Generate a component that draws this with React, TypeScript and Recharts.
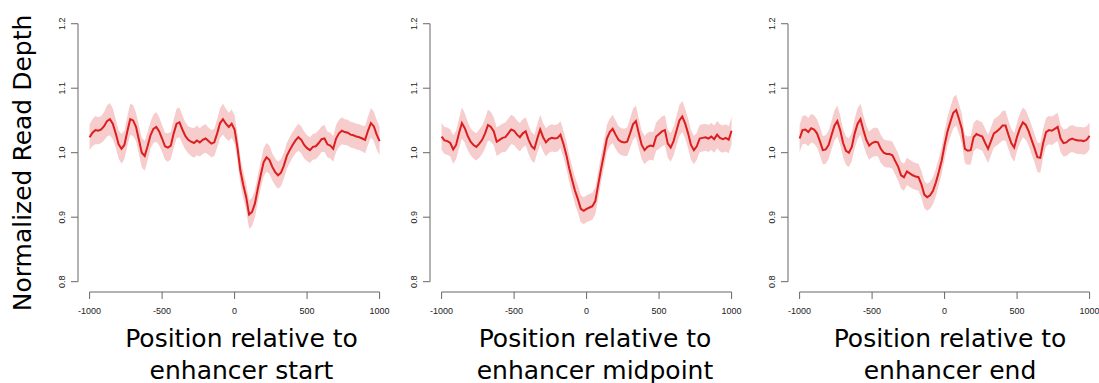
import React from 'react';
import { ComposedChart, Area, Line, XAxis, YAxis, ReferenceLine } from 'recharts';

// positions (bp) relative to the enhancer feature
const positions = [
	-1000, -980, -960, -940, -920, -900, -880, -860, -840, -820,
	-800, -780, -760, -740, -720, -700, -680, -660, -640, -620,
	-600, -580, -560, -540, -520, -500, -480, -460, -440, -420,
	-400, -380, -360, -340, -320, -300, -280, -260, -240, -220,
	-200, -180, -160, -140, -120, -100, -80, -60, -40, -20,
	0, 20, 40, 60, 80, 100, 120, 140, 160, 180,
	200, 220, 240, 260, 280, 300, 320, 340, 360, 380,
	400, 420, 440, 460, 480, 500, 520, 540, 560, 580,
	600, 620, 640, 660, 680, 700, 720, 740, 760, 780,
	800, 820, 840, 860, 880, 900, 920, 940, 960, 980,
	1000,
];

// mean normalized depth around enhancer start
const startMean = [
	1.024, 1.031, 1.035, 1.034, 1.036, 1.041, 1.049, 1.052, 1.045, 1.030,
	1.013, 1.006, 1.012, 1.033, 1.052, 1.050, 1.040, 1.020, 1.000, 0.995,
	1.010, 1.027, 1.037, 1.040, 1.033, 1.022, 1.010, 1.008, 1.011, 1.030,
	1.045, 1.047, 1.036, 1.026, 1.020, 1.017, 1.015, 1.019, 1.016, 1.020,
	1.022, 1.018, 1.014, 1.016, 1.030, 1.046, 1.052, 1.045, 1.040, 1.045,
	1.036, 1.008, 0.972, 0.950, 0.931, 0.904, 0.908, 0.921, 0.944, 0.965,
	0.985, 0.993, 0.989, 0.978, 0.970, 0.965, 0.969, 0.980, 0.995, 1.004,
	1.012, 1.019, 1.024, 1.020, 1.012, 1.007, 1.004, 1.009, 1.010, 1.015,
	1.021, 1.022, 1.013, 1.011, 1.006, 1.022, 1.030, 1.034, 1.032, 1.031,
	1.028, 1.027, 1.025, 1.024, 1.022, 1.020, 1.034, 1.046, 1.041, 1.028,
	1.018,
];

// half width of the shaded band (start)
const startSpread = [
	0.020, 0.021, 0.022, 0.021, 0.021, 0.022, 0.024, 0.025, 0.024, 0.022,
	0.022, 0.023, 0.022, 0.023, 0.024, 0.024, 0.022, 0.022, 0.023, 0.023,
	0.022, 0.021, 0.022, 0.023, 0.022, 0.021, 0.021, 0.022, 0.021, 0.022,
	0.023, 0.023, 0.022, 0.021, 0.021, 0.022, 0.023, 0.023, 0.022, 0.022,
	0.022, 0.021, 0.021, 0.021, 0.022, 0.023, 0.024, 0.023, 0.022, 0.022,
	0.022, 0.021, 0.021, 0.021, 0.021, 0.022, 0.022, 0.021, 0.021, 0.021,
	0.022, 0.022, 0.022, 0.021, 0.021, 0.021, 0.021, 0.020, 0.020, 0.020,
	0.020, 0.020, 0.021, 0.021, 0.021, 0.020, 0.020, 0.020, 0.020, 0.020,
	0.020, 0.021, 0.020, 0.020, 0.020, 0.021, 0.021, 0.021, 0.020, 0.020,
	0.020, 0.020, 0.020, 0.020, 0.020, 0.021, 0.022, 0.023, 0.023, 0.023,
	0.022,
];

// mean normalized depth around enhancer midpoint
const midMean = [
	1.025, 1.019, 1.018, 1.015, 1.005, 1.012, 1.030, 1.046, 1.038, 1.026,
	1.017, 1.012, 1.009, 1.014, 1.020, 1.030, 1.043, 1.040, 1.033, 1.017,
	1.020, 1.023, 1.024, 1.030, 1.036, 1.034, 1.028, 1.024, 1.030, 1.033,
	1.020, 1.010, 1.006, 1.022, 1.036, 1.024, 1.016, 1.021, 1.023, 1.022,
	1.023, 1.028, 1.014, 0.997, 0.976, 0.958, 0.941, 0.928, 0.913, 0.910,
	0.913, 0.915, 0.917, 0.925, 0.950, 0.975, 0.998, 1.022, 1.032, 1.037,
	1.028, 1.020, 1.017, 1.016, 1.017, 1.030, 1.044, 1.049, 1.030, 1.012,
	1.004, 1.009, 1.011, 1.010, 1.025, 1.029, 1.033, 1.035, 1.014, 1.008,
	1.018, 1.034, 1.050, 1.056, 1.045, 1.030, 1.012, 1.004, 1.010, 1.022,
	1.023, 1.024, 1.022, 1.025, 1.021, 1.028, 1.023, 1.021, 1.023, 1.020,
	1.034,
];

const midSpread = [
	0.021, 0.021, 0.021, 0.021, 0.022, 0.022, 0.023, 0.024, 0.023, 0.022,
	0.021, 0.021, 0.021, 0.022, 0.022, 0.023, 0.024, 0.023, 0.022, 0.022,
	0.022, 0.022, 0.023, 0.023, 0.023, 0.022, 0.022, 0.022, 0.022, 0.022,
	0.022, 0.022, 0.022, 0.022, 0.023, 0.022, 0.022, 0.021, 0.021, 0.021,
	0.021, 0.021, 0.021, 0.021, 0.021, 0.021, 0.021, 0.021, 0.021, 0.021,
	0.021, 0.021, 0.021, 0.021, 0.021, 0.021, 0.021, 0.021, 0.021, 0.022,
	0.022, 0.021, 0.021, 0.021, 0.022, 0.023, 0.024, 0.024, 0.023, 0.022,
	0.022, 0.022, 0.022, 0.022, 0.022, 0.023, 0.023, 0.023, 0.022, 0.022,
	0.022, 0.023, 0.024, 0.024, 0.023, 0.023, 0.023, 0.022, 0.021, 0.021,
	0.021, 0.021, 0.021, 0.021, 0.021, 0.021, 0.021, 0.021, 0.021, 0.021,
	0.021,
];

// mean normalized depth around enhancer end
const endMean = [
	1.022, 1.035, 1.036, 1.032, 1.038, 1.036, 1.030, 1.018, 1.004, 1.005,
	1.012, 1.027, 1.042, 1.049, 1.035, 1.015, 1.003, 1.000, 1.009, 1.030,
	1.045, 1.052, 1.035, 1.020, 1.011, 1.015, 1.017, 1.016, 1.006, 1.000,
	0.998, 0.998, 0.996, 0.987, 0.978, 0.965, 0.962, 0.971, 0.968, 0.965,
	0.963, 0.962, 0.951, 0.935, 0.931, 0.934, 0.941, 0.954, 0.970, 0.988,
	1.012, 1.033, 1.048, 1.062, 1.066, 1.052, 1.036, 1.006, 1.003, 1.004,
	1.024, 1.029, 1.027, 1.025, 1.015, 1.006, 1.018, 1.030, 1.033, 1.037,
	1.042, 1.042, 1.028, 1.015, 1.008, 1.025, 1.038, 1.047, 1.043, 1.033,
	1.020, 1.007, 0.993, 0.992, 1.015, 1.032, 1.035, 1.034, 1.037, 1.040,
	1.022, 1.015, 1.016, 1.020, 1.022, 1.020, 1.019, 1.019, 1.018, 1.020,
	1.026,
];

const endSpread = [
	0.021, 0.022, 0.022, 0.022, 0.022, 0.022, 0.022, 0.022, 0.022, 0.022,
	0.022, 0.022, 0.023, 0.024, 0.023, 0.022, 0.022, 0.022, 0.022, 0.023,
	0.024, 0.024, 0.023, 0.022, 0.022, 0.022, 0.022, 0.022, 0.022, 0.021,
	0.021, 0.021, 0.021, 0.021, 0.021, 0.021, 0.021, 0.021, 0.021, 0.021,
	0.021, 0.021, 0.021, 0.021, 0.021, 0.021, 0.021, 0.021, 0.021, 0.021,
	0.022, 0.022, 0.023, 0.024, 0.024, 0.023, 0.023, 0.022, 0.022, 0.022,
	0.022, 0.022, 0.022, 0.022, 0.022, 0.022, 0.022, 0.022, 0.022, 0.022,
	0.023, 0.023, 0.022, 0.022, 0.022, 0.022, 0.023, 0.023, 0.023, 0.022,
	0.022, 0.022, 0.023, 0.023, 0.022, 0.022, 0.022, 0.022, 0.022, 0.022,
	0.021, 0.021, 0.021, 0.021, 0.021, 0.021, 0.021, 0.021, 0.021, 0.021,
	0.021,
];

const xTicks = [-1000, -500, 0, 500, 1000];
const yTicks = [0.8, 0.9, 1.0, 1.1, 1.2];
const xDomain = [-1080, 1080];
const yDomain = [0.784, 1.216];

const yTitle = "Normalized Read Depth";
const panelTitles = [
	["Position relative to", "enhancer start"],
	["Position relative to", "enhancer midpoint"],
	["Position relative to", "enhancer end"],
];

const panels = [
	{ mean: startMean, spread: startSpread, plotLeft: 78.4, titleX: 241.5 },
	{ mean: midMean, spread: midSpread, plotLeft: 430.1, titleX: 595 },
	{ mean: endMean, spread: endSpread, plotLeft: 787.7, titleX: 950 },
];

const LINE = "#dc1e1e";
const BAND = "#f6cccc";
const AXIS = "#666";
const TICK_FONT = "'Liberation Sans', Arial, sans-serif";
const TITLE_FONT = "'DejaVu Sans', sans-serif";

const AXIS_W = 78;
const PLOT_W = 313.2;
const RIGHT = 12;
const TOP = 13.4;
const PLOT_H = 278.6;
const CHART_H = 330;

function XTick(props: any) {
	const { x, y, payload } = props;
	return (
		<text x={x} y={y} dy="0.71em" textAnchor="middle" fontSize={9} fontFamily={TICK_FONT} fill="#222">
			{payload.value}
		</text>
	);
}

function YTick(props: any) {
	const { x, y, payload } = props;
	return (
		<text x={x} y={y} textAnchor="middle" transform={`rotate(-90, ${x}, ${y})`} fontSize={9} fontFamily={TICK_FONT} fill="#222">
			{Number(payload.value).toFixed(1)}
		</text>
	);
}

function Panel({ mean, spread, plotLeft }: { mean: number[]; spread: number[]; plotLeft: number }) {
	const rows = positions.map((pos, i) => ({
		pos,
		mean: mean[i],
		band: [mean[i] - spread[i], mean[i] + spread[i]],
	}));

	return (
		<div style={{ position: "absolute", left: plotLeft - AXIS_W, top: 0 }}>
			<ComposedChart
				width={AXIS_W + PLOT_W + RIGHT}
				height={CHART_H}
				data={rows}
				margin={{ top: TOP, right: RIGHT, bottom: 0, left: 0 }}
			>
				<XAxis
					dataKey="pos"
					type="number"
					domain={xDomain}
					ticks={xTicks}
					interval={0}
					axisLine={false}
					tickLine={{ stroke: AXIS }}
					tickSize={7}
					tickMargin={8.5}
					height={CHART_H - TOP - PLOT_H}
					tick={<XTick />}
				/>
				<YAxis
					type="number"
					domain={yDomain}
					ticks={yTicks}
					interval={0}
					axisLine={false}
					tickLine={{ stroke: AXIS }}
					tickSize={7}
					tickMargin={6.4}
					width={AXIS_W}
					tick={<YTick />}
				/>
				<Area
					dataKey="band"
					type="linear"
					stroke="none"
					fill={BAND}
					fillOpacity={1}
					isAnimationActive={false}
				/>
				<Line
					dataKey="mean"
					type="linear"
					stroke={LINE}
					strokeWidth={2}
					dot={false}
					isAnimationActive={false}
				/>
				{/* R style axes: lines only from first to last tick */}
				<ReferenceLine
					segment={[{ x: xTicks[0], y: yDomain[0] }, { x: xTicks[xTicks.length - 1], y: yDomain[0] }]}
					stroke={AXIS}
					ifOverflow="visible"
				/>
				<ReferenceLine
					segment={[{ x: xDomain[0], y: yTicks[0] }, { x: xDomain[0], y: yTicks[yTicks.length - 1] }]}
					stroke={AXIS}
					ifOverflow="visible"
				/>
			</ComposedChart>
		</div>
	);
}

export default function App() {
	return (
		<div style={{
			position: "absolute",
			left: 0,
			top: 0,
			width: 1099,
			height: 383,
			overflow: "hidden",
			background: "white",
		}}>
			{panels.map((p, i) => (
				<Panel key={i} mean={p.mean} spread={p.spread} plotLeft={p.plotLeft} />
			))}
			<svg width={1099} height={383} style={{ position: "absolute", left: 0, top: 0, pointerEvents: "none" }}>
				<text
					x={31}
					y={163}
					textAnchor="middle"
					transform="rotate(-90, 31, 163)"
					fontSize={25}
					fontFamily={TITLE_FONT}
					fill="#000"
				>
					{yTitle}
				</text>
				{panels.map((p, i) => (
					<g key={i}>
						<text x={p.titleX} y={346.7} textAnchor="middle" fontSize={25} fontFamily={TITLE_FONT} fill="#000">
							{panelTitles[i][0]}
						</text>
						<text x={p.titleX} y={379} textAnchor="middle" fontSize={25} fontFamily={TITLE_FONT} fill="#000">
							{panelTitles[i][1]}
						</text>
					</g>
				))}
			</svg>
		</div>
	);
}
